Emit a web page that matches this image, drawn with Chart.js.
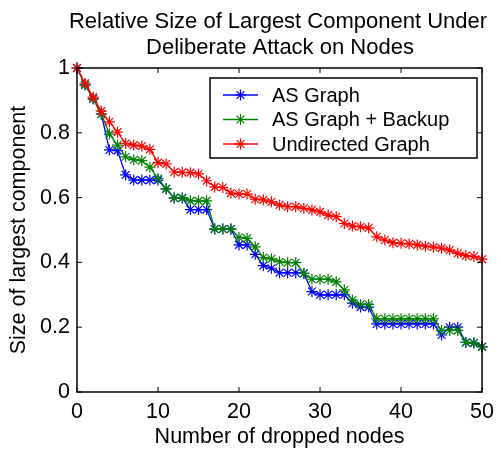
<!DOCTYPE html>
<html>
<head>
<meta charset="utf-8">
<script src="https://cdn.jsdelivr.net/npm/chart.js@4.4.0/dist/chart.umd.min.js"></script>
<style>
  html, body { margin: 0; padding: 0; background: #fff; }
</style>
</head>
<body>
<canvas id="chart" width="501" height="450"></canvas>
<script>
// data
var droppedNodes = [0, 1, 2, 3, 4, 5, 6, 7, 8, 9, 10, 11, 12, 13, 14, 15, 16, 17, 18, 19, 20,
  21, 22, 23, 24, 25, 26, 27, 28, 29, 30, 31, 32, 33, 34, 35, 36, 37, 38, 39, 40,
  41, 42, 43, 44, 45, 46, 47, 48, 49, 50];

var asGraph = [1.0, 0.948, 0.905, 0.858, 0.747, 0.745, 0.67, 0.654, 0.654, 0.654, 0.654,
  0.627, 0.599, 0.599, 0.563, 0.563, 0.563, 0.503, 0.503, 0.503, 0.454,
  0.454, 0.425, 0.39, 0.382, 0.368, 0.368, 0.368, 0.366, 0.31, 0.30,
  0.30, 0.30, 0.30, 0.274, 0.262, 0.262, 0.21, 0.21, 0.21, 0.21,
  0.21, 0.21, 0.21, 0.21, 0.176, 0.2, 0.2, 0.153, 0.151, 0.14];

var asGraphBackup = [1.0, 0.948, 0.905, 0.858, 0.796, 0.762, 0.726, 0.717, 0.714, 0.694, 0.659,
  0.627, 0.599, 0.599, 0.59, 0.59, 0.59, 0.503, 0.503, 0.503, 0.477,
  0.474, 0.448, 0.415, 0.411, 0.402, 0.399, 0.399, 0.366, 0.348, 0.348,
  0.348, 0.34, 0.315, 0.284, 0.27, 0.27, 0.226, 0.226, 0.226, 0.226,
  0.226, 0.226, 0.226, 0.226, 0.19, 0.19, 0.19, 0.153, 0.151, 0.139];

var undirectedGraph = [1.0, 0.953, 0.91, 0.867, 0.834, 0.802, 0.767, 0.762, 0.759, 0.749, 0.708,
  0.704, 0.679, 0.678, 0.677, 0.673, 0.652, 0.633, 0.631, 0.614, 0.611,
  0.611, 0.595, 0.593, 0.587, 0.577, 0.572, 0.572, 0.567, 0.562, 0.556,
  0.546, 0.541, 0.52, 0.512, 0.51, 0.506, 0.479, 0.469, 0.461, 0.459,
  0.457, 0.454, 0.45, 0.447, 0.444, 0.438, 0.428, 0.421, 0.418, 0.41];

var xTicks = [0, 10, 20, 30, 40, 50];
var yTicks = [0, 0.2, 0.4, 0.6, 0.8, 1];
var seriesNames = ["AS Graph", "AS Graph + Backup", "Undirected Graph"];
var seriesColors = ["#0000ff", "#008000", "#ff0000"];
var titleLines = ["Relative Size of Largest Component Under", "Deliberate Attack on Nodes"];

var FONT = "'Liberation Sans', Arial, Helvetica, sans-serif";

function toPoints(ys) {
  return droppedNodes.map(function (x, i) { return { x: x, y: ys[i] }; });
}

function makeSet(i, ys, order) {
  return {
    label: seriesNames[i],
    data: toPoints(ys),
    borderColor: seriesColors[i],
    backgroundColor: seriesColors[i],
    borderWidth: 1.3,
    pointStyle: "star",
    pointRadius: 5.5,
    pointBorderWidth: 1.2,
    pointHoverRadius: 5.5,
    tension: 0,
    clip: false,
    order: order
  };
}

// matlab style box, inward ticks, title and legend
var matlabLook = {
  id: "matlabLook",
  afterDraw: function (chart) {
    var ctx = chart.ctx;
    var a = chart.chartArea;
    var xs = chart.scales.x, ys = chart.scales.y;
    ctx.save();
    ctx.strokeStyle = "#000";
    ctx.lineWidth = 1.5;
    ctx.strokeRect(a.left, a.top, a.right - a.left, a.bottom - a.top);
    ctx.lineWidth = 1;
    ctx.beginPath();
    xTicks.forEach(function (t) {
      var px = xs.getPixelForValue(t);
      ctx.moveTo(px, a.bottom); ctx.lineTo(px, a.bottom - 5);
      ctx.moveTo(px, a.top); ctx.lineTo(px, a.top + 5);
    });
    yTicks.forEach(function (t) {
      var py = ys.getPixelForValue(t);
      ctx.moveTo(a.left, py); ctx.lineTo(a.left + 5, py);
      ctx.moveTo(a.right, py); ctx.lineTo(a.right - 5, py);
    });
    ctx.stroke();

    // title
    ctx.fillStyle = "#000";
    ctx.font = "22px " + FONT;
    ctx.textAlign = "center";
    ctx.textBaseline = "alphabetic";
    ctx.fillText(titleLines[0], 278, 28);
    ctx.fillText(titleLines[1], 280, 54);

    // legend
    var bx = 210, by = 78, bw = 267, bh = 80;
    ctx.fillStyle = "#fff";
    ctx.fillRect(bx, by, bw, bh);
    ctx.lineWidth = 1.5;
    ctx.strokeStyle = "#000";
    ctx.strokeRect(bx, by, bw, bh);
    ctx.font = "20px " + FONT;
    ctx.textAlign = "left";
    ctx.textBaseline = "middle";
    seriesNames.forEach(function (name, i) {
      var ry = 95 + i * 24.5;
      ctx.strokeStyle = seriesColors[i];
      ctx.lineWidth = 1.3;
      ctx.beginPath();
      ctx.moveTo(223, ry); ctx.lineTo(258, ry);
      ctx.stroke();
      ctx.lineWidth = 1.2;
      Chart.helpers.drawPoint(ctx, { pointStyle: "star", radius: 5.5, borderWidth: 1.2 }, 240.5, ry);
      ctx.fillStyle = "#000";
      ctx.fillText(name, 272, ry + 1);
    });
    ctx.restore();
  }
};

function plainLabel(v) { return String(Math.round(v * 10) / 10); }

var ctx = document.getElementById("chart").getContext("2d");
var chart = new Chart(ctx, {
  type: "line",
  data: {
    datasets: [
      makeSet(0, asGraph, 3),
      makeSet(1, asGraphBackup, 2),
      makeSet(2, undirectedGraph, 1)
    ]
  },
  options: {
    responsive: false,
    animation: false,
    devicePixelRatio: 1,
    layout: { padding: { top: 68, right: 13, left: 0, bottom: 0 } },
    plugins: {
      legend: { display: false },
      title: { display: false },
      tooltip: { enabled: false }
    },
    scales: {
      x: {
        type: "linear",
        min: 0,
        max: 50,
        afterFit: function (s) { s.height = 58; },
        afterBuildTicks: function (s) { s.ticks = xTicks.map(function (v) { return { value: v }; }); },
        grid: { display: false, drawTicks: false },
        border: { display: false },
        ticks: { color: "#000", padding: 7, font: { family: FONT, size: 21.5 }, callback: plainLabel },
        title: {
          display: true,
          text: "Number of dropped nodes",
          color: "#000",
          padding: 0,
          font: { family: FONT, size: 21.5, lineHeight: 1.2 }
        }
      },
      y: {
        type: "linear",
        min: 0,
        max: 1,
        afterFit: function (s) { s.width = 77; },
        afterBuildTicks: function (s) { s.ticks = yTicks.map(function (v) { return { value: v }; }); },
        grid: { display: false, drawTicks: false },
        border: { display: false },
        ticks: { color: "#000", padding: 7, font: { family: FONT, size: 21.5 }, callback: plainLabel },
        title: {
          display: true,
          text: "Size of largest component",
          color: "#000",
          padding: { top: 6, bottom: 0 },
          font: { family: FONT, size: 21.5, lineHeight: 1.2 }
        }
      }
    }
  },
  plugins: [matlabLook]
});
</script>
</body>
</html>
